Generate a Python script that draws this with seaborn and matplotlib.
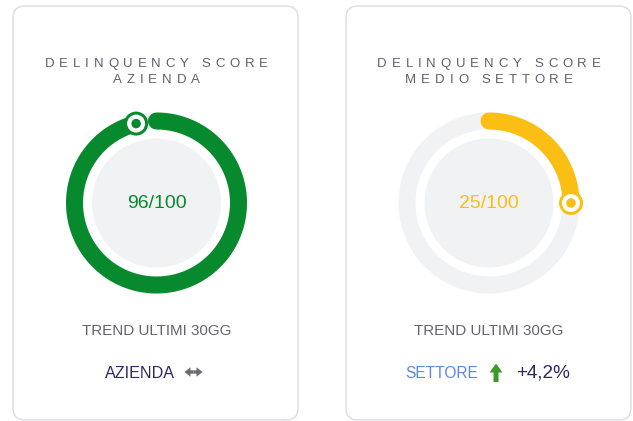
import numpy as np
import matplotlib
matplotlib.use("Agg")
import matplotlib.pyplot as plt
from matplotlib.patches import FancyBboxPatch, Circle, FancyArrow
import seaborn as sns
import pandas as pd

# ---- data ----
titles = [["DELINQUENCY SCORE", "AZIENDA"], ["DELINQUENCY SCORE", "MEDIO SETTORE"]]
scores = [96, 25]
max_score = 100
score_colors = ["#078a2e", "#fbbf14"]
trend_label = "TREND ULTIMI 30GG"
trend_names = ["AZIENDA", "SETTORE"]
trend_values = [None, "+4,2%"]
trend_dirs = ["flat", "up"]

sns.set_theme(style="white")
plt.rcParams['font.family'] = ['Liberation Sans', 'DejaVu Sans']

W, H = 633, 421
fig = plt.figure(figsize=(W / 100, H / 100), dpi=100)
ax = fig.add_axes([0, 0, 1, 1])
ax.set_xlim(0, W)
ax.set_ylim(0, H)
ax.axis("off")
renderer = fig.canvas.get_renderer()


def Y(py):
    return H - py


PT = 72 / 100  # points per pixel


def text_w(s, fs):
    t = ax.text(0, 0, s, fontsize=fs)
    w = t.get_window_extent(renderer).width
    t.remove()
    return w


def spaced_text(s, cx, baseline_py, fs, track, color):
    space_w = text_w("x x", fs) - text_w("xx", fs)
    widths = [space_w if ch == " " else text_w(ch, fs) for ch in s]
    total = sum(widths) + track * (len(s) - 1)
    x = cx - total / 2
    for ch, w in zip(s, widths):
        if ch != " ":
            ax.text(x, Y(baseline_py), ch, ha="left", va="baseline", fontsize=fs, color=color)
        x += w + track


card_x = [13, 346]
card_w = 285
centers_x = [156.5, 489]
cy = 203
r_ring = 82
ring_w = 17
r_disc = 64.5
gray = "#f1f2f4"

for i in range(2):
    card = FancyBboxPatch((card_x[i], Y(420)), card_w, 414,
                          boxstyle="round,pad=0,rounding_size=12",
                          facecolor="white", edgecolor="#dcdce2", linewidth=1.4 * PT)
    ax.add_patch(card)
    cx = centers_x[i]
    for j, line in enumerate(titles[i]):
        spaced_text(line, cx, 67.3 + 16 * j, 9.5, 4.8, "#5f606e")
    if scores[i] < max_score:
        ax.add_patch(Circle((cx, Y(cy)), r_ring, fill=False, edgecolor=gray,
                            linewidth=ring_w * PT))
    ax.add_patch(Circle((cx, Y(cy)), r_disc, facecolor=gray, edgecolor="none"))
    frac = scores[i] / max_score
    th = np.linspace(90, 90 - 360 * frac, 400)
    xs = cx + r_ring * np.cos(np.radians(th))
    ys = Y(cy) + r_ring * np.sin(np.radians(th))
    arc = pd.DataFrame({"x": xs, "y": ys})
    sns.lineplot(data=arc, x="x", y="y", sort=False, ax=ax, color=score_colors[i],
                 linewidth=ring_w * PT, solid_capstyle="round", legend=False)
    kx, ky = xs[-1], ys[-1]
    ax.add_patch(Circle((kx, ky), 12, facecolor=score_colors[i], edgecolor="none", zorder=5))
    ax.add_patch(Circle((kx, ky), 9, facecolor="white", edgecolor="none", zorder=6))
    knob = pd.DataFrame({"x": [kx], "y": [ky]})
    sns.scatterplot(data=knob, x="x", y="y", ax=ax, s=(9.5 * PT) ** 2,
                    color=score_colors[i], edgecolor="none", zorder=7, legend=False)
    ax.text(cx, Y(cy + 1), f"{scores[i]}/{max_score}", ha="center", va="center",
            fontsize=14, color=score_colors[i])
    ax.text(cx, Y(331), trend_label, ha="center", va="center", fontsize=10.9,
            color="#62636f")

# bottom row left
ax.text(140, Y(374), trend_names[0], ha="center", va="center", fontsize=11.6, color="#2a2866")
mid = 193.5
for d in (-1, 1):
    ax.add_patch(FancyArrow(mid, Y(372), d * 9, 0, width=3.4, head_width=9.5, head_length=6,
                            length_includes_head=True, color="#6b6b73", linewidth=0))

# bottom row right
ax.text(442, Y(374), trend_names[1], ha="center", va="center", fontsize=11.2, color="#5b86e3")
ax.add_patch(FancyArrow(496, Y(382), 0, 18.5, width=5, head_width=13, head_length=9,
                        length_includes_head=True, color="#3c9a2a", linewidth=0))
ax.text(543, Y(373.5), trend_values[1], ha="center", va="center", fontsize=13.6, color="#2a2866")

ax.set_xlim(0, W)
ax.set_ylim(0, H)
fig.savefig("out.png", dpi=100)
